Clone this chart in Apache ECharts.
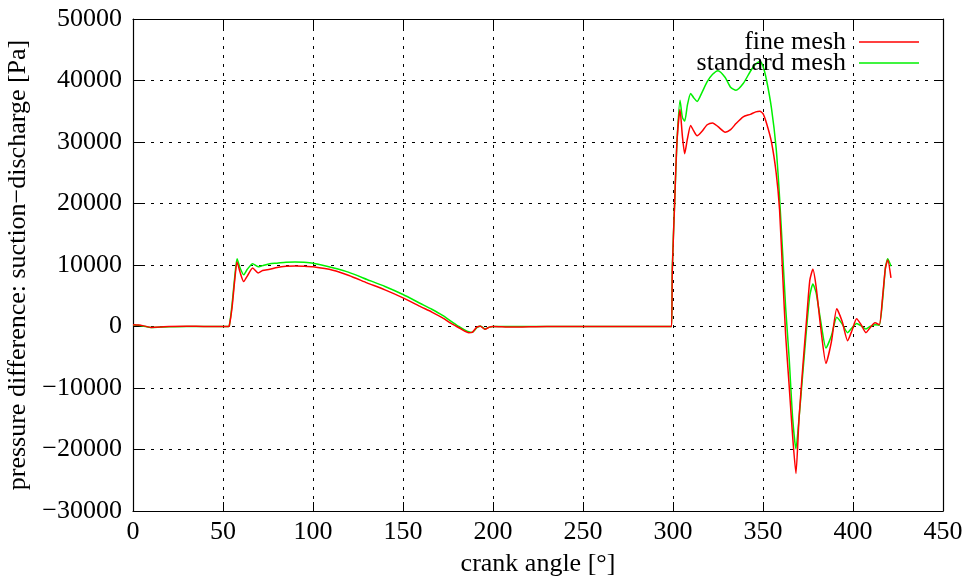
<!DOCTYPE html>
<html>
<head>
<meta charset="utf-8">
<script src="https://cdn.jsdelivr.net/npm/echarts@6/dist/echarts.min.js"></script>
<style>html,body{margin:0;padding:0;background:#fff}#c{width:974px;height:582px}</style>
</head>
<body>
<div id="c"></div>
<script>
const angles = [0,3,6,10,15,20,30,40,50,53,53.5,55,56.5,57.8,59.5,61.5,63.5,66.5,69.5,72,76,80,85,90,95,100,111,120,130,140,150,160,166,172,177,181,184,186.5,188.5,191,193,195.5,198,200,210,230,250,270,290,298,299.2,299.6,300.9,302.2,303.9,305.2,306.5,308,309.8,311.5,313.4,316,319,322,325,329,332,335,339,343,346,348.3,350,352,354.7,357.3,359.2,361,362.6,364.5,366.5,368.3,370,372,374.3,376,377.7,379.5,382,385,388,391,394,397,399.5,402,404.5,407.2,409.5,412.2,414.6,416.5,418,419.3,421.1];
const fineMesh = [300,250,100,-150,-100,0,50,0,0,0,100,3000,7500,10500,8800,7300,8200,9500,8700,9100,9300,9600,9800,9850,9800,9700,9150,8300,7100,5950,4660,3200,2350,1400,450,-200,-700,-1000,-950,-100,50,-450,-100,0,-100,0,0,0,0,0,0,9000,20000,30000,35300,31000,28100,30500,32700,31800,31000,31700,32800,33100,32500,31600,32000,33000,34100,34500,34900,35000,34600,33000,30000,25000,19000,8000,-1500,-9500,-18000,-23900,-15000,-7000,1500,7500,9300,6500,0,-6000,-2500,2900,800,-2300,-600,1250,300,-1000,-200,600,300,5000,9500,10800,7900];
const standardMesh = [300,200,50,-150,-100,-50,0,0,0,0,100,3500,8000,11000,9500,8400,9300,10200,9700,9900,10200,10300,10450,10500,10450,10300,9550,8800,7650,6500,5200,3700,2800,1800,800,0,-500,-850,-950,-200,100,-400,-100,0,0,0,0,0,0,0,0,9500,20000,30000,36800,34000,33400,36000,37900,37200,36600,38000,39800,41000,41600,40500,38900,38400,39500,41500,42700,43100,42300,40000,35500,29000,21000,11500,3000,-5000,-15000,-19900,-15000,-8000,0,5000,6900,5500,1000,-3500,-1500,1500,400,-1000,-200,500,100,-400,0,300,200,4500,9500,11000,9800];
const xTicks = {min:0, max:450, interval:50};
const yTicks = {min:-30000, max:50000, interval:10000};
const seriesNames = ['fine mesh','standard mesh'];
const xTitle = 'crank angle [°]';
const yTitle = 'pressure difference: suction\u2212discharge [Pa]';

const font = 'Liberation Serif';
const fs = 26;
const fmt = v => v < 0 ? '\u2212' + Math.abs(v) : String(v);
const chart = echarts.init(document.getElementById('c'));
const gridLine = {show:true, lineStyle:{color:'#000', type:[3,6], width:1}};
const tick = {show:true, inside:true, length:9, lineStyle:{color:'#000'}};
const axLine = {show:true, onZero:false, lineStyle:{color:'#000', width:1.2}};
chart.setOption({
  animation:false,
  backgroundColor:'#fff',
  grid:{left:133, right:31, top:19, bottom:71, containLabel:false, outerBoundsMode:'none'},
  legend:{
    orient:'vertical', right:50, top:24, align:'right',
    icon:'rect', itemWidth:60, itemHeight:1.5, itemGap:-5,
    textStyle:{fontFamily:font, fontSize:fs, color:'#000', lineHeight:18, padding:[0,8,0,0]},
    data:seriesNames
  },
  xAxis:[
    {type:'value', ...xTicks, name:xTitle, nameLocation:'middle', nameGap:40,
     nameTextStyle:{fontFamily:font, fontSize:fs, color:'#000'},
     axisLine:axLine, axisTick:tick, splitLine:gridLine,
     axisLabel:{fontFamily:font, fontSize:fs, color:'#000', margin:8, formatter:fmt}},
    {type:'value', ...xTicks, position:'top', axisLine:axLine, axisTick:tick,
     splitLine:{show:false}, axisLabel:{show:false}}
  ],
  yAxis:[
    {type:'value', ...yTicks, name:yTitle, nameLocation:'middle', nameGap:98,
     nameTextStyle:{fontFamily:font, fontSize:fs, color:'#000'},
     axisLine:axLine, axisTick:tick, splitLine:gridLine,
     axisLabel:{fontFamily:font, fontSize:fs, color:'#000', margin:11, formatter:fmt}},
    {type:'value', ...yTicks, position:'right', axisLine:axLine, axisTick:tick,
     splitLine:{show:false}, axisLabel:{show:false}}
  ],
  series:[
    {name:seriesNames[0], type:'line', symbol:'none', smooth:0.2,
     lineStyle:{color:'#ff0000', width:1.5}, itemStyle:{color:'#ff0000'},
     data:angles.map((a,i)=>[a,fineMesh[i]]), z:3},
    {name:seriesNames[1], type:'line', symbol:'none', smooth:0.2,
     lineStyle:{color:'#00f000', width:1.5}, itemStyle:{color:'#00f000'},
     data:angles.map((a,i)=>[a,standardMesh[i]]), z:2}
  ]
});
</script>
</body>
</html>
